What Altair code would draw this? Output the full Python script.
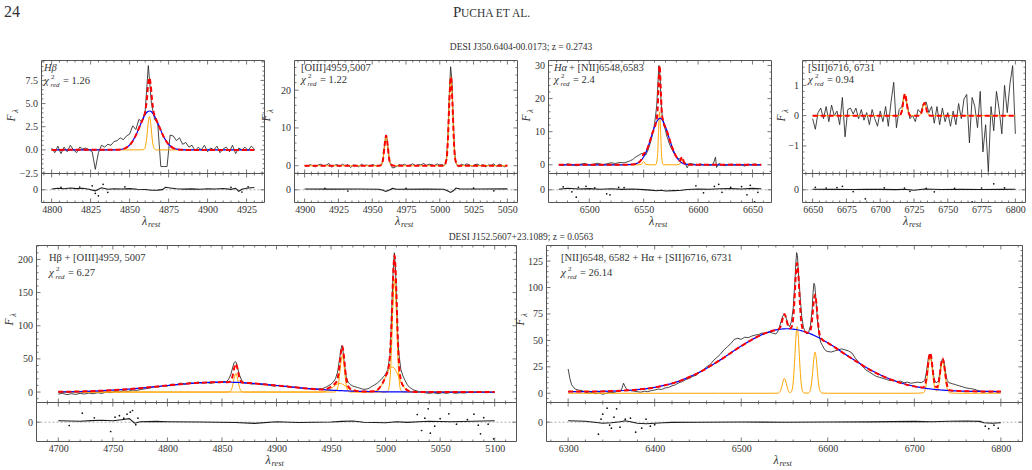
import altair as alt
import pandas as pd

W, H = 1032, 470
SERIF = "Liberation Serif"
C_DATA = "#262626"
C_RED = "#ff0000"
C_BLUE = "#0000ff"
C_ORANGE = "#ffa500"
C_FRAME = "#555555"
C_TEXT = "#333333"
C_ZERO = "#b0b0b0"

# ======================= DATA =======================
# ---- top row: DESI J350.6404-00.0173, z = 0.2743 ----
# Panel 1: H-beta
p1_spec_w = list(range(4800, 4931, 2))
p1_spec_f = [0.2, -0.3, 0.4, -0.4, 0.3, -0.2, 0.5, 0.0, -0.3, 0.3,
             0.1, 0.2, 0.0, -0.2, -2.1, -0.3, 0.5, 0.3, 0.6, 0.5,
             0.9, 1.0, 1.3, 1.1, 1.5, 1.7, 2.6, 2.2, 3.3, 3.0,
             4.2, 9.1, 5.0, 3.3, 2.9, -1.8, -1.8, -1.8, 1.6, 1.5,
             1.0, 1.3, 0.6, 0.8, 0.3, 0.5, -0.1, 0.3, 0.0, 0.5,
             -0.2, 0.2, 0.0, 0.4, -0.3, 0.1, 0.3, -0.2, 0.5, -0.4,
             0.2, 0.0, 0.3, -0.1, 0.4, 0.1]
# (wavelength, broad, narrow, total)
p1_model = [(4800, 0, 0, 0), (4840, 0.01, 0, 0.01), (4845, 0.07, 0, 0.07), (4848, 0.25, 0, 0.25),
            (4851, 0.71, 0, 0.71), (4854, 1.57, 0, 1.57), (4857, 2.75, 0, 2.75), (4859, 3.51, 0.03, 3.54),
            (4860, 3.82, 0.29, 4.11), (4861, 4.04, 1.32, 5.36), (4862, 4.17, 3.04, 7.21), (4862.7, 4.2, 3.6, 7.8),
            (4863.5, 4.17, 2.88, 7.05), (4864.5, 4.03, 1.17, 5.2), (4865.5, 3.79, 0.24, 4.03), (4867, 3.3, 0, 3.3),
            (4869, 2.51, 0, 2.51), (4872, 1.36, 0, 1.36), (4875, 0.59, 0, 0.59), (4878, 0.2, 0, 0.2),
            (4881, 0.05, 0, 0.05), (4885, 0, 0, 0), (4930, 0, 0, 0)]
p1_res = [(4800, 0.8), (4804, 1.5), (4808, 1.0), (4812, 1.8), (4816, 1.2), (4820, 1.5), (4824, 0.6),
          (4828, -1.0), (4832, 2.0), (4836, 0.5), (4840, 1.0), (4845, 0.8), (4850, 1.2), (4855, 0.6),
          (4860, 0.3), (4864, -0.5), (4868, -0.3), (4871, 0.2), (4873, 2.5), (4876, 1.8), (4880, 1.0),
          (4885, 0.7), (4890, 0.9), (4895, 0.5), (4900, 1.0), (4905, 0.8), (4910, 1.3), (4915, 0.4),
          (4918, 1.5), (4920, -1.5), (4922, 0.5), (4925, 1.5), (4928, 2.0), (4930, 2.3)]
p1_dots = [(4806, 2.5), (4818, 2.8), (4826, 4.0), (4828, -3.5), (4830, -6.0), (4833, 5.5), (4836, -2.5),
           (4847, 3.0), (4915, 2.5), (4922, -2.2), (4926, 3.0)]

# Panel 2: [OIII]
p2_spec_w = (list(range(4900, 4955, 2)) + list(range(4956, 4967)) + list(range(4968, 5003, 2))
             + list(range(5003, 5015)) + list(range(5016, 5051, 2)))
p2_spec_f = [0.1, -0.2, 0.3, 0.0, -0.3, 0.2, 0.4, -0.1, 0.2, 0.6,
             -0.4, 0.1, 0.3, -0.2, 0.4, 0.0, 0.3, -0.5, 0.2, 0.1,
             -0.3, 0.4, 0.0, 0.2, -0.2, 0.3, 0.1, -0.1,
             0.1, 0.33, 1.7, 5.0, 8.0, 7.1, 3.5, 0.95, 0.1, -0.6, -0.5,
             -0.2, 0.3, 0.1, 0.4, -0.1, 0.2, 0.5, 0.0, 0.3, 0.2,
             0.6, 0.1, 0.4, 0.3, 0.0, 0.5, 0.2, 0.3,
             0.03, 0.3, 1.9, 7.7, 18.4, 26.2, 22.5, 11.6, 3.6, 0.67, 0.1, -0.3,
             0.4, 0.1, 0.5, 0.2, -0.2, 0.3, 0.4, 0.0, 0.3, -0.3,
             0.2, 0.1, 0.5, -0.2, 0.4, 0.1, -0.3, 0.2]
# (wavelength, narrow, total)
p2_model = [(4900, 0, 0), (4955, 0, 0), (4957, 0.32, 0.32), (4958, 1.67, 1.67), (4959, 4.86, 4.86),
            (4960.3, 8.0, 8.0), (4961.5, 5.22, 5.22), (4962.5, 1.91, 1.91), (4963.5, 0.39, 0.39),
            (4966, 0, 0), (5003, 0, 0), (5005, 1.72, 1.72), (5006, 6.84, 6.84), (5007, 16.3, 16.3),
            (5008.2, 23.5, 23.5), (5009.4, 16.3, 16.3), (5010.4, 6.84, 6.84), (5011.4, 1.72, 1.72),
            (5013.5, 0, 0), (5050, 0, 0)]
p2_res = [(4900, 0.8), (4920, 0.7), (4940, 0.8), (4955, 0.6), (4958, -0.5), (4960, -1.6), (4962, -0.8),
          (4965, 1.4), (4968, 0.6), (4990, 0.7), (5003, 0.5), (5006, -1.2), (5008, -2.6), (5010, -1.0),
          (5012, 1.8), (5015, 0.8), (5030, 0.8), (5050, 0.9)]
p2_dots = [(4915, 1.5), (4932, -1.2), (4975, 1.5), (5025, 1.6), (5040, -1.0)]

# Panel 3: H-alpha + [NII]
p3_spec_w = (list(range(6472, 6537, 4)) + list(range(6538, 6557, 2)) + list(range(6558, 6573))
             + list(range(6574, 6593, 2))
             + [6596, 6599, 6602, 6605, 6608, 6611, 6614, 6616, 6617, 6619, 6622, 6625, 6628, 6631,
                6634, 6637, 6640, 6643, 6646, 6649, 6652, 6655, 6658])
p3_spec_f = [0.1, -0.2, 0.3, 0.0, -0.3, 0.2, 0.4, -0.1, 0.2, 0.5, 0.0, 0.3, 0.6, 0.4, 0.7, 0.6, 1.0,
             1.3, 1.6, 2.2, 2.6, 3.0, 3.4, 3.2, 3.0, 4.5, 6.5,
             9.0, 10.5, 12.5, 15.0, 18.0, 24.0, 30.0, 27.0, 19.0, 15.0, 13.0, 11.5, 10.5, 9.0, 8.0,
             6.0, 4.6, 3.4, 2.5, 1.8, 1.9, 1.6, 0.6, -0.9, 0.4,
             0.2, -0.1, 0.3, 0.0, 0.1, -0.2, 0.3, 2.3, -0.8, 0.4, 0.0, -0.3, 0.1, 0.2,
             -0.1, 0.1, 0.0, -0.4, 0.2, 0.0, 0.3, -0.1, 0.1]
# (wavelength, broad, narrow, total)
p3_model = [(6472, 0, 0, 0), (6530, 0, 0, 0), (6540, 0.11, 0, 0.11), (6545, 0.61, 0, 0.61),
            (6548, 1.46, 0.17, 1.63), (6549.9, 2.36, 1.0, 3.36), (6552, 3.74, 0.11, 3.85),
            (6555, 6.41, 0, 6.41), (6558, 9.55, 0, 9.55), (6561, 12.36, 0, 12.36),
            (6562.6, 13.38, 2.17, 15.55), (6563.6, 13.79, 9.7, 23.49), (6564.6, 14.0, 16.0, 30.0),
            (6565.6, 14.0, 9.7, 23.7), (6566.6, 13.72, 2.17, 15.89), (6568, 13.05, 0.05, 13.1),
            (6571, 10.57, 0, 10.57), (6574, 7.43, 0, 7.43), (6577, 4.55, 0, 4.55), (6580, 2.41, 0, 2.41),
            (6583.3, 1.02, 0.24, 1.26), (6585.3, 0.56, 1.8, 2.36), (6587.3, 0.29, 0.24, 0.53),
            (6590, 0.11, 0, 0.11), (6595, 0.01, 0, 0.01), (6600, 0, 0, 0), (6658, 0, 0, 0)]
p3_res = [(6472, 0.5), (6480, 1.5), (6490, 0.8), (6500, 1.2), (6510, 0.6), (6520, 1.0), (6530, 0.4),
          (6540, 0.8), (6550, 0.2), (6556, -0.3), (6562, -1.0), (6566, -0.5), (6570, -1.2), (6578, -0.8),
          (6585, -0.5), (6590, 0.3), (6600, 0.8), (6610, 0.5), (6620, 1.0), (6630, 1.2), (6640, 0.8),
          (6650, 1.4), (6658, 1.0)]
p3_dots = [(6476, 3.0), (6484, -2.0), (6488, -7.4), (6490, 2.5), (6497, 3.5), (6505, 2.0), (6516, -4.0),
           (6519, -5.0), (6527, 2.5), (6532, 2.2), (6598, 4.0), (6605, -3.0), (6615, 3.5), (6619, 5.5),
           (6622, -2.5), (6630, 2.5), (6640, 3.2), (6645, -5.0), (6648, 4.5), (6652, -12.0), (6655, -2.5)]

# Panel 4: [SII]
p4_spec_w = list(range(6650, 6801, 2))
p4_spec_f = [-0.1, -0.45, 0.1, 0.25, -0.1, 0.3, -0.2, 0.35, 0.0, 0.15,
             -0.3, 0.6, -0.7, 0.2, 0.25, 0.05, 0.25, -0.1, 0.2, -0.15,
             0.1, -0.3, 0.2, -0.1, -0.35, 0.15, -0.2, 0.3, -0.35, 0.45,
             1.1, -0.4, 0.2, 0.3, 0.7, 0.35, -0.1, 0.0, -0.2, 0.2,
             0.1, 0.4, 0.45, 0.1, 0.3, -0.25, 0.3, -0.3, 0.25, -0.2,
             0.1, -0.35, 0.15, -0.3, 0.4, -0.1, 0.55, 0.7, -0.9, 0.6,
             0.3, -0.4, 0.8, -1.2, -0.3, -1.85, 0.3, -0.5, 0.8, 0.2,
             -0.6, 1.0, 0.1, 1.05, 1.65, -0.6]
# (wavelength, narrow, total)
p4_model = [(6650, 0, 0), (6714, 0, 0), (6716, 0.15, 0.15), (6717, 0.44, 0.44), (6718.3, 0.72, 0.72),
            (6719.6, 0.44, 0.44), (6720.6, 0.15, 0.15), (6722.5, 0, 0), (6728.5, 0, 0),
            (6730.5, 0.10, 0.10), (6731.5, 0.27, 0.27), (6732.7, 0.42, 0.42), (6733.9, 0.27, 0.27),
            (6734.9, 0.10, 0.10), (6737, 0, 0), (6800, 0, 0)]
p4_res = [(6650, 0.5), (6665, 0.4), (6680, 0.3), (6690, 0.5), (6700, 0.4), (6712, 0.2), (6718, 0.6),
          (6725, -0.5), (6733, 0.8), (6745, 0.3), (6760, 0.4), (6775, 0.3), (6790, 0.4), (6800, 0.5)]
p4_dots = [(6652, 2.5), (6660, 1.8), (6668, 2.2), (6672, 3.5), (6680, -1.8), (6689, -9.0), (6703, 2.0),
           (6718, 1.8), (6722, -1.5), (6734, 1.5), (6740, -2.0), (6755, 1.5), (6768, -12.0), (6775, 1.8),
           (6784, 6.0), (6792, 2.0)]

# ---- bottom row: DESI J152.5607+23.1089, z = 0.0563 ----
bl_spec = [(4700, -3), (4704, -2), (4708, -4), (4712, -2.5), (4716, -3.5), (4720, -2), (4724, -3),
           (4728, -1.5), (4732, -2.5), (4736, -1), (4740, -2), (4744, 0), (4748, -1), (4752, 1), (4756, 0),
           (4760, 2), (4764, 1), (4768, 3), (4772, 2.5), (4776, 4), (4780, 5), (4784, 6), (4788, 8),
           (4792, 7.5), (4796, 10), (4800, 9), (4804, 12), (4808, 11), (4812, 13.5), (4816, 12), (4820, 14),
           (4824, 13), (4828, 15), (4832, 13.5), (4836, 14.5), (4840, 13), (4844, 15), (4848, 14),
           (4850, 15), (4852, 16), (4854, 15.5), (4856, 19), (4858, 26), (4860, 38), (4861, 44), (4862, 46),
           (4863, 45), (4864, 38), (4866, 26), (4868, 18), (4870, 14), (4874, 13), (4878, 12), (4882, 13),
           (4886, 11), (4890, 12), (4894, 10), (4898, 9), (4902, 10), (4906, 8.5), (4910, 9), (4914, 7),
           (4918, 7.5), (4922, 6), (4926, 5.5), (4930, 5), (4934, 4), (4938, 4.5), (4942, 5), (4946, 8),
           (4950, 12), (4952, 15), (4954, 20), (4956, 30), (4958, 52), (4959, 64), (4960, 70), (4961, 62),
           (4962, 45), (4964, 22), (4966, 14), (4968, 11), (4970, 9), (4972, 8), (4974, 7), (4976, 6),
           (4978, 5), (4980, 4), (4982, 4.5), (4984, 5), (4986, 7), (4988, 9), (4990, 11), (4992, 13),
           (4994, 16), (4996, 19), (4998, 23), (5000, 27), (5002, 34), (5004, 55), (5005, 90), (5006, 140),
           (5007, 185), (5008, 210), (5009, 190), (5010, 140), (5011, 90), (5012, 60), (5014, 34),
           (5016, 24), (5018, 17), (5020, 11), (5022, 7), (5024, 5), (5026, 3), (5028, 2), (5032, 0),
           (5036, -1), (5040, -2), (5044, -1), (5048, -2.5), (5052, -1), (5056, -2), (5060, -0.5),
           (5064, -2), (5068, -1), (5072, -1.5), (5076, -0.5), (5080, -1), (5084, 0.5), (5088, 0),
           (5092, -1), (5096, -0.5), (5100, -1)]
# (wavelength, broad Hb, narrow lines, [OIII] wings, total)
bl_model = [(4700, 0.36, 0, 0, 0.36), (4725, 1.13, 0, 0, 1.13), (4750, 2.87, 0, 0, 2.87),
            (4775, 5.92, 0, 0, 5.92), (4800, 9.92, 0, 0, 9.92), (4825, 13.53, 0, 0, 13.53),
            (4850, 15.0, 0, 0, 15.0), (4854.7, 14.95, 0, 0, 14.95), (4856.7, 14.89, 0.31, 0, 15.2),
            (4858.2, 14.83, 2.23, 0, 17.06), (4859.7, 14.77, 9.1, 0, 23.87), (4861.2, 14.69, 21.1, 0, 35.79),
            (4862.7, 14.61, 28.0, 0, 42.61), (4864.2, 14.51, 21.1, 0, 35.61), (4865.7, 14.4, 9.1, 0, 23.5),
            (4867.2, 14.28, 2.23, 0, 16.51), (4868.7, 14.16, 0.31, 0, 14.47), (4870.7, 13.97, 0, 0, 13.97),
            (4875, 13.53, 0, 0, 13.53), (4900, 9.92, 0, 0, 9.92), (4925, 5.92, 0, 0, 5.92),
            (4940, 3.93, 0, 0, 3.93), (4946, 3.27, 0, 1.76, 5.03), (4949, 2.97, 0, 4.22, 7.19),
            (4952.3, 2.66, 0, 8.28, 10.94), (4954.3, 2.48, 0.6, 10.75, 13.83),
            (4955.8, 2.36, 4.38, 12.16, 18.9), (4957.3, 2.24, 17.9, 12.95, 33.09),
            (4958.8, 2.12, 41.5, 12.88, 56.5), (4960.3, 2.01, 55.0, 12.08, 69.09),
            (4961.8, 1.9, 41.5, 10.64, 54.04), (4963.3, 1.8, 17.9, 8.8, 28.5),
            (4964.8, 1.7, 4.38, 6.84, 12.92), (4966.3, 1.6, 0.6, 4.99, 7.19), (4968.3, 1.48, 0, 2.98, 4.46),
            (4970, 1.39, 0, 1.76, 3.15), (4973, 1.23, 0, 0.57, 1.8), (4976, 1.09, 0, 0.14, 1.23),
            (4980, 0.92, 0, 0, 0.92), (4985, 0.74, 0, 0.08, 0.82), (4988, 0.64, 0, 0.42, 1.06),
            (4991, 0.56, 0, 1.67, 2.23), (4994, 0.49, 0, 5.13, 5.62), (4997, 0.42, 0, 12.3, 12.72),
            (5000.2, 0.36, 0, 23.83, 24.19), (5002.2, 0.32, 1.9, 31.1, 33.32),
            (5003.7, 0.3, 13.5, 35.3, 49.1), (5005.2, 0.28, 55.3, 37.7, 93.28),
            (5006.7, 0.26, 128.4, 37.7, 166.36), (5008.2, 0.24, 170.0, 35.5, 205.74),
            (5009.7, 0.22, 128.4, 31.4, 160.02), (5011.2, 0.2, 55.3, 26.1, 81.6),
            (5012.7, 0.19, 13.5, 20.4, 34.09), (5014.2, 0.17, 1.9, 14.9, 16.97),
            (5016.2, 0.15, 0, 8.97, 9.12), (5018, 0.14, 0, 5.13, 5.27), (5021, 0.12, 0, 1.67, 1.79),
            (5024, 0.1, 0, 0.42, 0.52), (5028, 0.08, 0, 0.05, 0.13), (5035, 0.05, 0, 0, 0.05),
            (5050, 0.02, 0, 0, 0.02), (5100, 0, 0, 0, 0)]
bl_res = [(4700, 1.5), (4710, 1.2), (4720, 1.0), (4730, 1.6), (4740, 2.0), (4750, 1.5), (4758, 2.5),
          (4765, 3.5), (4770, -1.0), (4775, 0.5), (4790, 0.8), (4800, 0.5), (4830, 0.2), (4862, -0.3),
          (4880, -1.2), (4900, 0.5), (4920, -0.3), (4950, 0.2), (4960, 0.8), (4970, 1.2), (4980, 0.0),
          (5000, -0.5), (5010, 0.5), (5020, -0.2), (5030, 0.5), (5040, 1.0), (5060, 0.5), (5080, 1.0),
          (5100, 1.5)]
bl_dots = [(4710, -3.3), (4722, 9.0), (4733, 4.4), (4748, -9.3), (4752, 5.0), (4756, 6.5), (4760, 4.0),
           (4763, 8.0), (4766, 10.0), (4768, 11.7), (4771, -2.5), (4773, 4.0), (5029, 7.7), (5033, -8.3),
           (5036, 4.0), (5039, 13.4), (5041, -11.0), (5045, -4.0), (5050, 3.5), (5058, 8.4), (5065, -2.0),
           (5075, 2.5), (5081, 8.0), (5085, -3.0), (5087, -11.6), (5090, 4.5), (5094, -2.0), (5099, -16.6)]

br_spec = [(6300, 23), (6302, 14), (6304, 8), (6306, 6), (6308, 4), (6312, 3), (6316, 2.5), (6320, 1),
           (6324, 0), (6328, 1), (6332, -0.5), (6336, 0.5), (6340, -1), (6344, 0), (6348, 1), (6352, 0.5),
           (6356, 1.5), (6360, 2), (6362, 4), (6364, 9.5), (6366, 6), (6368, 3), (6372, 2.5), (6376, 2),
           (6380, 1.5), (6384, 1), (6388, 2), (6392, 1.5), (6396, 2.5), (6400, 3), (6404, 4), (6408, 3.5),
           (6412, 5), (6416, 5.5), (6420, 7), (6424, 8), (6428, 10), (6432, 11), (6436, 13), (6440, 14),
           (6444, 16), (6448, 17), (6452, 20), (6456, 22), (6460, 25), (6464, 27), (6468, 31), (6472, 34),
           (6476, 37), (6480, 41), (6484, 44), (6488, 47), (6492, 51), (6496, 52), (6500, 51), (6504, 53),
           (6508, 52.5), (6512, 54), (6516, 55), (6520, 55.5), (6524, 57), (6528, 56.5), (6532, 58),
           (6536, 57), (6540, 56), (6542, 58), (6544, 62), (6546, 68), (6548, 73), (6550, 75), (6552, 71),
           (6554, 65), (6556, 63), (6558, 68), (6560, 80), (6562, 105), (6563, 122), (6564, 133),
           (6565, 130), (6566, 115), (6568, 92), (6570, 72), (6572, 62), (6574, 58), (6576, 56), (6578, 58),
           (6580, 64), (6582, 80), (6583, 95), (6584, 104), (6585, 102), (6586, 92), (6588, 70), (6590, 55),
           (6592, 48), (6594, 45), (6596, 42), (6598, 40), (6600, 39.5), (6604, 39), (6608, 40), (6612, 41),
           (6616, 42), (6620, 41), (6624, 40), (6628, 38), (6632, 33), (6636, 29), (6640, 26), (6644, 22),
           (6648, 20), (6652, 18), (6656, 16), (6660, 15), (6664, 14), (6668, 13), (6672, 12), (6676, 12.5),
           (6680, 11), (6684, 11.5), (6688, 10), (6692, 10.5), (6696, 9.5), (6700, 10), (6704, 10.5),
           (6708, 10), (6712, 12), (6714, 20), (6716, 32), (6718, 37), (6720, 30), (6722, 17), (6724, 11),
           (6726, 10), (6728, 12), (6730, 22), (6732, 32), (6734, 31), (6736, 20), (6738, 12), (6740, 10),
           (6744, 9), (6748, 8), (6752, 7), (6756, 6), (6760, 5), (6764, 4.5), (6768, 4), (6772, 3),
           (6776, 2), (6780, 1), (6784, 2), (6788, 1), (6792, 2), (6796, 1), (6800, 1.5)]
# (wavelength, broad Ha, narrow lines, total)
br_model = [(6300, 1.54, 0, 1.54), (6325, 1.65, 0, 1.65), (6350, 2.03, 0, 2.03), (6375, 3.07, 0, 3.07),
            (6400, 5.56, 0, 5.56), (6425, 10.57, 0, 10.57), (6450, 19.1, 0, 19.1), (6475, 31.1, 0, 31.1),
            (6500, 44.6, 0, 44.6), (6520, 54.0, 0, 54.0), (6535, 58.8, 0, 58.8),
            (6541.9, 60.16, 0.06, 60.22), (6543.9, 60.44, 0.62, 61.06), (6545.4, 60.6, 2.41, 63.01),
            (6546.9, 60.75, 6.41, 67.16), (6548.4, 60.86, 11.52, 72.38), (6549.9, 60.93, 14.0, 74.93),
            (6551.4, 60.99, 11.52, 72.51), (6552.9, 61.0, 6.41, 67.41), (6554.4, 60.99, 2.41, 63.4),
            (6555.9, 60.94, 0.71, 61.65), (6556.6, 60.91, 0.53, 61.44), (6558.6, 60.79, 2.77, 63.56),
            (6560.1, 60.66, 10.84, 71.5), (6561.6, 60.5, 28.85, 89.35), (6563.1, 60.31, 51.85, 112.16),
            (6564.6, 60.09, 63.0, 123.09), (6566.1, 59.84, 51.85, 111.69), (6567.6, 59.56, 28.85, 88.41),
            (6569.1, 59.25, 10.84, 70.09), (6570.6, 58.92, 2.77, 61.69), (6572.6, 58.43, 0.25, 58.68),
            (6577.3, 57.1, 0.16, 57.26), (6579.3, 56.46, 1.72, 58.18), (6580.8, 55.95, 6.71, 62.66),
            (6582.3, 55.42, 17.86, 73.28), (6583.8, 54.86, 32.1, 86.96), (6585.3, 54.28, 39.0, 93.28),
            (6586.8, 53.69, 32.1, 85.79), (6588.3, 53.07, 17.86, 70.93), (6589.8, 52.44, 6.71, 59.15),
            (6591.3, 51.78, 1.72, 53.5), (6593.3, 50.88, 0.16, 51.04), (6600, 47.7, 0, 47.7),
            (6625, 34.3, 0, 34.3), (6650, 21.7, 0, 21.7), (6675, 12.3, 0, 12.3), (6700, 6.5, 0, 6.5),
            (6710.3, 4.98, 0.41, 5.39), (6712.3, 4.73, 2.89, 7.62), (6713.8, 4.56, 8.47, 13.03),
            (6715.3, 4.39, 18.33, 22.72), (6716.8, 4.24, 29.14, 33.38), (6718.3, 4.08, 34.0, 38.08),
            (6719.8, 3.94, 29.14, 33.08), (6721.3, 3.8, 18.33, 22.13), (6722.8, 3.67, 8.47, 12.14),
            (6724.3, 3.55, 3.13, 6.68), (6726.3, 3.39, 2.22, 5.61), (6728.2, 3.26, 7.51, 10.77),
            (6729.7, 3.15, 16.17, 19.32), (6731.2, 3.05, 25.71, 28.76), (6732.7, 2.96, 30.0, 32.96),
            (6734.2, 2.87, 25.71, 28.58), (6735.7, 2.79, 16.17, 18.96), (6737.2, 2.71, 7.47, 10.18),
            (6738.7, 2.64, 2.55, 5.19), (6740.7, 2.54, 0.36, 2.9), (6750, 2.2, 0, 2.2),
            (6775, 1.71, 0, 1.71), (6800, 1.55, 0, 1.55)]
br_res = [(6300, 1.5), (6320, 1.0), (6330, 0.0), (6340, -1.0), (6350, -0.5), (6360, 0.5), (6366, 1.5),
          (6372, 0.5), (6380, -1.0), (6390, -1.5), (6400, -1.0), (6410, -0.5), (6420, -0.2), (6450, 0.0),
          (6500, 0.2), (6550, 0.0), (6600, 0.2), (6650, 0.3), (6700, 0.8), (6720, 0.4), (6740, 1.0),
          (6760, 1.2), (6776, 0.8), (6780, -0.5), (6790, -1.0), (6800, -0.5)]
br_dots = [(6335, -12.0), (6338, 3.0), (6340, 8.0), (6345, 14.0), (6348, -3.0), (6350, -6.0), (6353, 5.0),
           (6356, 13.4), (6360, -5.0), (6366, 3.0), (6372, 4.0), (6378, -10.0), (6385, -6.0), (6390, 3.0),
           (6395, -4.0), (6400, -2.5), (6782, -4.0), (6786, -6.5), (6792, -3.0), (6797, -6.0)]

# axis tick values (major = labelled)
p1_xmaj = [4800, 4825, 4850, 4875, 4900, 4925]
p1_ymaj = [-2.5, 0.0, 2.5, 5.0, 7.5]
p2_xmaj = [4900, 4925, 4950, 4975, 5000, 5025, 5050]
p2_ymaj = [0, 10, 20]
p3_xmaj = [6500, 6550, 6600, 6650]
p3_ymaj = [0, 10, 20, 30]
p4_xmaj = [6650, 6675, 6700, 6725, 6750, 6775, 6800]
p4_ymaj = [-2, -1, 0, 1]
bl_xmaj = [4700, 4750, 4800, 4850, 4900, 4950, 5000, 5050, 5100]
bl_ymaj = [0, 50, 100, 150, 200]
br_xmaj = [6300, 6400, 6500, 6600, 6700, 6800]
br_ymaj = [0, 25, 50, 75, 100, 125]


# ======================= HELPERS =======================
def minors(dom, step, majors):
    out = []
    k = int(dom[0] // step) - 1
    while k * step <= dom[1]:
        v = round(k * step, 4)
        if dom[0] < v < dom[1] and all(abs(v - m) > 1e-6 for m in majors):
            out.append(v)
        k += 1
    return out


def scale(dom, rng):
    return alt.Scale(domain=list(dom), range=list(rng), nice=False, zero=False)


def yaxis(px0, values, fmt):
    return alt.Axis(orient="left", offset=-px0, values=values, format=fmt, labelFont=SERIF,
                    labelFontSize=10, labelColor=C_TEXT, domain=False, ticks=False, tickSize=0,
                    grid=False, labelPadding=4, title=None, labelFlush=False, labelOverlap=False)


def xaxis(py1, values):
    return alt.Axis(orient="bottom", offset=py1 - H, values=values, format="d", labelFont=SERIF,
                    labelFontSize=10, labelColor=C_TEXT, domain=False, ticks=False, tickSize=0,
                    grid=False, labelPadding=2, title=None, labelFlush=False, labelOverlap=False)


class Panel:
    def __init__(self, xdom, xr, ydom, yr):
        self.xdom, self.ydom = xdom, ydom
        self.xs = scale(xdom, xr)
        self.ys = scale(ydom, (yr[1], yr[0]))
        self.ppx = (xr[1] - xr[0]) / (xdom[1] - xdom[0])
        self.ppy = (yr[1] - yr[0]) / (ydom[1] - ydom[0])
        self.layers = []

    def enc(self, xf="x", yf="y", xax=None, yax=None):
        return dict(x=alt.X(f"{xf}:Q", scale=self.xs, axis=xax),
                    y=alt.Y(f"{yf}:Q", scale=self.ys, axis=yax))

    def line(self, xs, ys, color, width, dash=None, interp="linear", xax=None, yax=None):
        df = pd.DataFrame({"x": list(xs), "y": list(ys)})
        props = dict(color=color, strokeWidth=width, interpolate=interp)
        if dash:
            props["strokeDash"] = dash
        self.layers.append(alt.Chart(df).mark_line(**props).encode(**self.enc(xax=xax, yax=yax)))

    def dots(self, pairs):
        df = pd.DataFrame(pairs, columns=["x", "y"])
        self.layers.append(alt.Chart(df).mark_circle(size=3, color="#111111", opacity=1).encode(**self.enc()))

    def frame(self, xmaj, xmin, ymaj, ymin):
        fd = pd.DataFrame({"x0": [self.xdom[0]], "x1": [self.xdom[1]],
                           "y0": [self.ydom[0]], "y1": [self.ydom[1]]})
        self.layers.append(alt.Chart(fd).mark_rect(fillOpacity=0, stroke=C_FRAME, strokeWidth=1).encode(
            x=alt.X("x0:Q", scale=self.xs, axis=None), x2="x1:Q",
            y=alt.Y("y0:Q", scale=self.ys, axis=None), y2="y1:Q"))
        # inward ticks on the four sides (lengths 4 px major, 2 px minor)
        rows = []
        for vals, L in ((xmaj, 4.0), (xmin, 2.0)):
            for v in vals:
                if self.xdom[0] < v < self.xdom[1]:
                    rows.append((v, self.ydom[0], self.ydom[0] + L / self.ppy))
                    rows.append((v, self.ydom[1], self.ydom[1] - L / self.ppy))
        if rows:
            td = pd.DataFrame(rows, columns=["t", "a", "b"])
            self.layers.append(alt.Chart(td).mark_rule(color=C_FRAME, strokeWidth=0.8).encode(
                x=alt.X("t:Q", scale=self.xs, axis=None), y=alt.Y("a:Q", scale=self.ys, axis=None), y2="b:Q"))
        rows = []
        for vals, L in ((ymaj, 4.0), (ymin, 2.0)):
            for v in vals:
                if self.ydom[0] < v < self.ydom[1]:
                    rows.append((v, self.xdom[0], self.xdom[0] + L / self.ppx))
                    rows.append((v, self.xdom[1], self.xdom[1] - L / self.ppx))
        if rows:
            td = pd.DataFrame(rows, columns=["t", "a", "b"])
            self.layers.append(alt.Chart(td).mark_rule(color=C_FRAME, strokeWidth=0.8).encode(
                y=alt.Y("t:Q", scale=self.ys, axis=None), x=alt.X("a:Q", scale=self.xs, axis=None), x2="b:Q"))


def main_panel(xdom, xr, ydom, yr, spec_w, spec_f, model_w, oranges, blue, total,
               xmaj, xstep, ymaj, ystep, yfmt):
    p = Panel(xdom, xr, ydom, yr)
    p.line(spec_w, spec_f, C_DATA, 0.85, yax=yaxis(xr[0], ymaj, yfmt))
    for o in oranges:
        p.line(model_w, o, C_ORANGE, 1.0, interp="monotone")
    if blue is not None:
        p.line(model_w, blue, C_BLUE, 1.2, interp="monotone")
    p.line(model_w, total, C_RED, 2.0, dash=[5, 3], interp="monotone")
    p.frame(xmaj, minors(xdom, xstep, xmaj), ymaj, minors(ydom, ystep, ymaj))
    return p.layers


def res_panel(xdom, xr, ydom, yr, res, dts, xmaj, xstep):
    p = Panel(xdom, xr, ydom, yr)
    p.line(list(xdom), [0, 0], C_ZERO, 1.0, dash=[2, 2], xax=xaxis(yr[1], xmaj), yax=yaxis(xr[0], [0], "d"))
    p.line([q[0] for q in res], [q[1] for q in res], "#1a1a1a", 1.1)
    p.dots(dts)
    p.frame(xmaj, minors(xdom, xstep, xmaj), [0], [])
    return p.layers


def col(m, i):
    return [r[i] for r in m]


# ======================= PANELS =======================
TM, TR = (60.5, 173.5), (173.5, 202.5)
BM, BR = (245.5, 402.5), (402.5, 441.5)
TOP_RES_DOM = (-12.7, 16.3)
BOT_RES_DOM = (-19.3, 19.7)

layers = []
x1, r1 = (4793.5, 4936.5), (41.5, 264.5)
layers += main_panel(x1, r1, (-2.55, 9.65), TM, p1_spec_w, p1_spec_f, col(p1_model, 0),
                     [col(p1_model, 2)], col(p1_model, 1), col(p1_model, 3), p1_xmaj, 5, p1_ymaj, 0.5, ".1f")
layers += res_panel(x1, r1, TOP_RES_DOM, TR, p1_res, p1_dots, p1_xmaj, 5)

x2, r2 = (4892.5, 5057.5), (294.5, 517.5)
layers += main_panel(x2, r2, (-2.06, 27.86), TM, p2_spec_w, p2_spec_f, col(p2_model, 0),
                     [col(p2_model, 1)], None, col(p2_model, 2), p2_xmaj, 5, p2_ymaj, 2, "d")
layers += res_panel(x2, r2, TOP_RES_DOM, TR, p2_res, p2_dots, p2_xmaj, 5)

x3, r3 = (6462.5, 6667.5), (548.5, 771.5)
layers += main_panel(x3, r3, (-2.63, 31.5), TM, p3_spec_w, p3_spec_f, col(p3_model, 0),
                     [col(p3_model, 2)], col(p3_model, 1), col(p3_model, 3), p3_xmaj, 10, p3_ymaj, 2, "d")
layers += res_panel(x3, r3, TOP_RES_DOM, TR, p3_res, p3_dots, p3_xmaj, 10)

x4, r4 = (6642.5, 6807.5), (802.5, 1025.5)
layers += main_panel(x4, r4, (-1.91, 1.82), TM, p4_spec_w, p4_spec_f, col(p4_model, 0),
                     [col(p4_model, 1)], None, col(p4_model, 2), p4_xmaj, 5, p4_ymaj, 0.2, "d")
layers += res_panel(x4, r4, TOP_RES_DOM, TR, p4_res, p4_dots, p4_xmaj, 5)

x5, r5 = (4680, 5120), (36.5, 516.5)
layers += main_panel(x5, r5, (-15.75, 221.0), BM, col(bl_spec, 0), col(bl_spec, 1), col(bl_model, 0),
                     [col(bl_model, 2), col(bl_model, 3)], col(bl_model, 1), col(bl_model, 4),
                     bl_xmaj, 10, bl_ymaj, 10, "d")
layers += res_panel(x5, r5, BOT_RES_DOM, BR, bl_res, bl_dots, bl_xmaj, 10)

x6, r6 = (6275, 6825), (546.5, 1022.5)
layers += main_panel(x6, r6, (-8.75, 139.75), BM, col(br_spec, 0), col(br_spec, 1), col(br_model, 0),
                     [col(br_model, 2)], col(br_model, 1), col(br_model, 3), br_xmaj, 20, br_ymaj, 5, "d")
layers += res_panel(x6, r6, BOT_RES_DOM, BR, br_res, br_dots, br_xmaj, 20)

# ======================= TEXT =======================
PIX_X = alt.Scale(domain=[0, W], range=[0, W], nice=False, zero=False)
PIX_Y = alt.Scale(domain=[0, H], range=[0, H], nice=False, zero=False)


def texts(rows, size, italic=False, align="left", baseline="middle", angle=0):
    df = pd.DataFrame(rows, columns=["t", "px", "py"])
    props = dict(font=SERIF, align=align, baseline=baseline, color=C_TEXT, fontSize=size,
                 fontStyle="italic" if italic else "normal")
    if angle:
        props["angle"] = angle
    return alt.Chart(df).mark_text(**props).encode(
        x=alt.X("px:Q", scale=PIX_X, axis=None), y=alt.Y("py:Q", scale=PIX_Y, axis=None), text="t:N")


chi = [(44, 81, "1.26"), (301, 80, "1.22"), (554, 80, "2.4"), (808, 80, "0.94"),
       (49, 273, "6.27"), (561, 273, "26.14")]
lab_norm = [("[OIII]4959,5007", 301, 68), ("+ [NII]6548,6583", 569, 68), ("[SII]6716, 6731", 808, 68),
            ("Hβ + [OIII]4959, 5007", 49, 258), ("[NII]6548, 6582 + Hα + [SII]6716, 6731", 561, 258)]
lab_ital = [("Hβ", 44, 68), ("Hα", 554, 68)]
chi_sym, chi_sup, chi_sub = [], [], []
for (cx, cy, v) in chi:
    lab_norm.append(("= " + v, cx + 19, cy))
    chi_sup.append(("2", cx + 7, cy - 4))
    chi_sym.append(("χ", cx, cy))
    chi_sub.append(("red", cx + 6.5, cy + 3.5))

lam_centers = [(152.5, 221), (405.5, 221), (659.5, 221), (913.5, 221), (276, 460), (784, 460)]
lam_main = [("λ", cx - 8, cy) for (cx, cy) in lam_centers]
lam_sub = [("rest", cx - 4.5, cy + 3) for (cx, cy) in lam_centers]
f_pos = [(12, 118), (267, 118), (527, 118), (782, 118), (10, 322), (521, 322)]
f_main = [("F", fx, fy) for (fx, fy) in f_pos]
f_sub = [("λ", fx + 3.5, fy - 7) for (fx, fy) in f_pos]

layers += [
    texts(lab_norm, 10.5),
    texts(lab_ital, 10.5, italic=True),
    texts(chi_sym, 11, italic=True),
    texts(chi_sup, 7),
    texts(chi_sub, 7, italic=True),
    texts(lam_main, 12, italic=True, align="center"),
    texts(lam_sub, 8.5, italic=True),
    texts(f_main, 11.5, italic=True, align="center", angle=270),
    texts(f_sub, 8, italic=True, align="center", angle=270),
    texts([("DESI J350.6404-00.0173; z = 0.2743", 521, 47),
           ("DESI J152.5607+23.1089; z = 0.0563", 521, 237)], 9.5, align="center"),
    texts([("24", 4, 17)], 16, baseline="alphabetic"),
    texts([("P", 453, 17)], 15, baseline="alphabetic"),
    texts([("UCHA ET AL.", 461, 17)], 11.5, baseline="alphabetic"),
]

chart = alt.layer(*layers).resolve_scale(x="independent", y="independent").properties(
    width=W, height=H, padding=0, autosize=alt.AutoSizeParams(type="none"), background="white"
).configure_view(strokeWidth=0)

chart.save("out.html", embed_options={"renderer": "svg", "actions": False})
